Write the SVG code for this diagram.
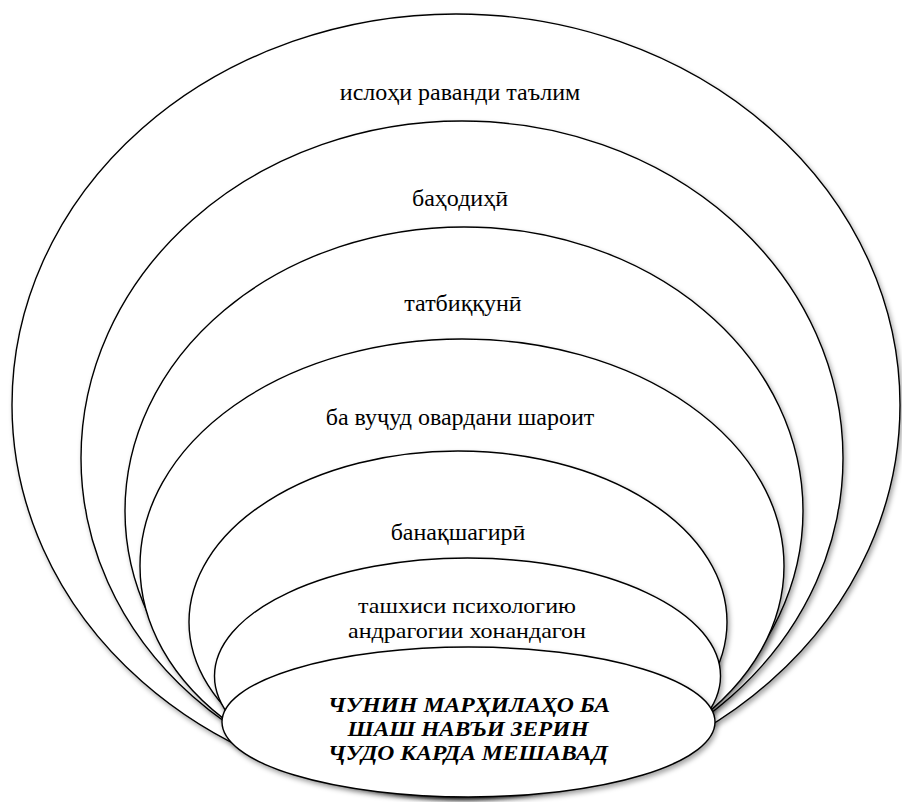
<svg xmlns="http://www.w3.org/2000/svg" width="902" height="802" viewBox="0 0 902 802">
<defs>
<filter id="sh" x="-5%" y="-5%" width="112%" height="115%">
<feDropShadow dx="2" dy="3" stdDeviation="2.5" flood-color="#000" flood-opacity="0.35"/>
</filter>
</defs>
<style>
.e{fill:#fff;stroke:#000;stroke-width:1.4;filter:url(#sh)}
text{font-family:'Liberation Serif',serif;text-anchor:middle;fill:#000}
.t{font-size:24px}
.s{font-size:22px}
.b{font-size:22px;font-weight:bold;font-style:italic}
</style>
<rect width="902" height="802" fill="#fff"/>
<g id="n1"><ellipse class="e" cx="456" cy="405" rx="444" ry="391"/><text class="t" x="460" y="100">ислоҳи раванди таълим</text></g>
<g id="n2"><ellipse class="e" cx="462" cy="458" rx="381" ry="337"/><text class="t" x="460" y="206">баҳодиҳӣ</text></g>
<g id="n3"><ellipse class="e" cx="464" cy="511" rx="339" ry="284"/><text class="t" x="463" y="311">татбиққунӣ</text></g>
<g id="n4"><ellipse class="e" cx="462" cy="566" rx="322" ry="227"/><text class="t" x="460" y="425">ба вуҷуд овардани шароит</text></g>
<g id="n5"><ellipse class="e" cx="458" cy="622" rx="269" ry="171"/><text class="t" x="458" y="540">банақшагирӣ</text></g>
<g id="n6"><ellipse class="e" cx="467.5" cy="676" rx="253" ry="118"/><text class="s" x="467" y="613" textLength="218" lengthAdjust="spacingAndGlyphs">ташхиси психологию</text><text class="s" x="467" y="638" textLength="238" lengthAdjust="spacingAndGlyphs">андрагогии хонандагон</text></g>
<g id="n7"><ellipse class="e" cx="468.5" cy="722" rx="246.5" ry="75"/><text class="b" x="469" y="712" textLength="282" lengthAdjust="spacingAndGlyphs">ЧУНИН МАРҲИЛАҲО БА</text><text class="b" x="468" y="736" textLength="241" lengthAdjust="spacingAndGlyphs">ШАШ НАВЪИ ЗЕРИН</text><text class="b" x="468" y="760" textLength="280" lengthAdjust="spacingAndGlyphs">ҶУДО КАРДА МЕШАВАД</text></g>
<g id="connectors"></g>
</svg>
